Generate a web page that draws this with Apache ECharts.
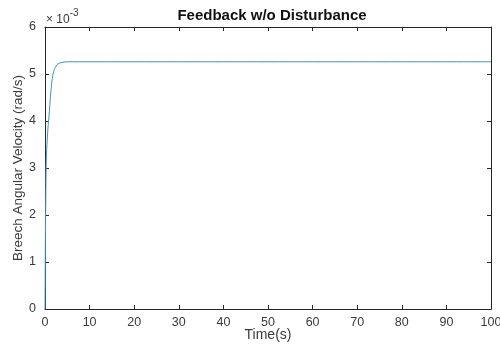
<!DOCTYPE html>
<html>
<head>
<meta charset="utf-8">
<script src="https://cdn.jsdelivr.net/npm/echarts@6/dist/echarts.min.js"></script>
<style>
  html, body { margin: 0; padding: 0; background: #fff; }
  #main { width: 500px; height: 345px; }
</style>
</head>
<body>
<div id="main"></div>
<script>
// time (s) and velocity (x 1e-3 rad/s)
var timeS = [0, 0.05, 0.1, 0.2, 0.3, 0.5, 0.7, 0.9, 1.2, 1.5, 1.8, 2.2, 2.7, 3.2, 4, 5, 10, 20, 40, 60, 80, 100];
var velocity = [0, 0.8, 1.6, 2.6, 3.2, 3.6, 3.9, 4.1, 4.5, 4.8, 5.0, 5.12, 5.2, 5.23, 5.25, 5.26, 5.26, 5.26, 5.26, 5.26, 5.26, 5.26];
var xTicks = [0, 10, 20, 30, 40, 50, 60, 70, 80, 90, 100];
var yTicks = [0, 1, 2, 3, 4, 5, 6];

var font = 'Liberation Sans, Arial, sans-serif';
var axisColor = '#262626';
var textColor = '#3a3a3a';

var points = timeS.map(function (t, i) { return [t, velocity[i]]; });

var myChart = echarts.init(document.getElementById('main'));

function xAx(pos, labels) {
  return {
    type: 'value', position: pos, min: xTicks[0], max: xTicks[xTicks.length - 1], interval: 10,
    axisLine: { show: true, onZero: false, lineStyle: { color: axisColor, width: 1 } },
    axisTick: { show: true, inside: true, length: 4, lineStyle: { color: axisColor } },
    axisLabel: { show: labels, color: textColor, fontFamily: font, fontSize: 12.5, margin: 7 },
    splitLine: { show: false },
    name: labels ? 'Time(s)' : '', nameLocation: 'middle', nameGap: 19, nameMoveOverlap: false,
    nameTextStyle: { color: textColor, fontFamily: font, fontSize: 14 }
  };
}
function yAx(pos, labels) {
  return {
    type: 'value', position: pos, min: yTicks[0], max: yTicks[yTicks.length - 1], interval: 1,
    axisLine: { show: true, onZero: false, lineStyle: { color: axisColor, width: 1 } },
    axisTick: { show: true, inside: true, length: 4, lineStyle: { color: axisColor } },
    axisLabel: { show: labels, color: textColor, fontFamily: font, fontSize: 12.5, margin: 9 },
    splitLine: { show: false },
    name: labels ? 'Breech Angular Velocity (rad/s)' : '', nameLocation: 'middle', nameGap: 20, nameMoveOverlap: false,
    nameTextStyle: { color: textColor, fontFamily: font, fontSize: 13.5 }
  };
}

myChart.setOption({
  animation: false,
  backgroundColor: '#fff',
  title: {
    text: 'Feedback w/o Disturbance', left: 267, top: 3, textAlign: 'center',
    textStyle: { fontFamily: font, fontSize: 15, fontWeight: 'bold', color: '#111' }
  },
  grid: { left: 45, right: 9, top: 27, bottom: 36, outerBoundsMode: 'none', containLabel: false },
  xAxis: [xAx('bottom', true), xAx('top', false)],
  yAxis: [yAx('left', true), yAx('right', false)],
  graphic: [{
    type: 'text', left: 46, top: 8,
    style: {
      text: '{a|\u00d7 10}{b|-3}',
      rich: {
        a: { fontFamily: font, fontSize: 12, fill: textColor, verticalAlign: 'bottom' },
        b: { fontFamily: font, fontSize: 10, fill: textColor, verticalAlign: 'top', padding: [0, 0, 8, 0] }
      }
    }
  }],
  series: [{
    type: 'line', data: points, showSymbol: false, smooth: 0.3,
    lineStyle: { color: '#3d93c2', width: 1 }
  }]
});
</script>
</body>
</html>
